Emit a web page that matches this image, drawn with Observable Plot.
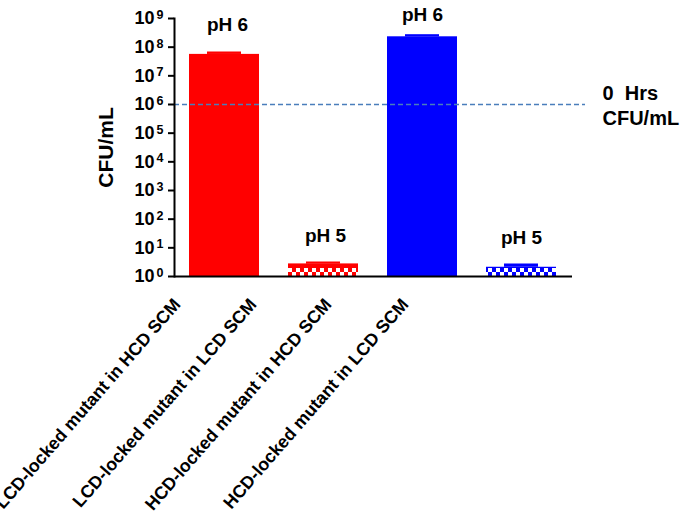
<!DOCTYPE html>
<html>
<head>
<meta charset="utf-8">
<script src="https://cdn.jsdelivr.net/npm/d3@7"></script>
<script src="https://cdn.jsdelivr.net/npm/@observablehq/plot@0.6"></script>
<style>
  body { margin: 0; background: #fff; }
</style>
</head>
<body>
<div id="chart"></div>
<script>
// ---- data ----
const categories = [
  "LCD-locked mutant in HCD SCM",
  "LCD-locked mutant in LCD SCM",
  "HCD-locked mutant in HCD SCM",
  "HCD-locked mutant in LCD SCM"
];
const means = [5.6e7, 2.75, 2.3e8, 2.1];
const errTops = [6.5e7, 3.07, 2.6e8, 2.62];
const phLabels = ["pH 6", "pH 5", "pH 6", "pH 5"];
const baselineValue = [1e6];
const baselineLabel = "0  Hrs\nCFU/mL";
const exponents = [0, 1, 2, 3, 4, 5, 6, 7, 8, 9];
const yLabel = "CFU/mL";

// ---- styles ----
const fills = ["#ff0000", "url(#checkRed)", "#0000ff", "url(#checkBlue)"];
const strokes = ["#ff0000", "#ff0000", "#0000ff", "#0000ff"];
const labelDx = [-43, -66, -90, -112];
const phDx = [3, 2, 0, 0];
const phDy = [-22, -21, -14, -21];

const rows = categories.map((c, i) => ({
  category: c, mean: means[i], err: errTops[i], ph: phLabels[i], fill: fills[i], stroke: strokes[i]
}));

const font = "'Liberation Sans', Arial, sans-serif";

const plot = Plot.plot({
  width: 680,
  height: 516,
  marginLeft: 174,
  marginRight: 108,
  marginTop: 18,
  marginBottom: 240,
  style: { fontFamily: font, color: "black", background: "white", overflow: "visible" },
  x: { type: "band", domain: categories, paddingInner: 0.29, paddingOuter: 0.155, axis: null },
  y: { type: "log", domain: [1, 1e9], axis: null },
  color: { type: "identity" },
  marks: [
    Plot.barY(rows, { x: "category", y1: 1, y2: "mean", fill: "fill" }),
    Plot.barY(rows, { x: "category", y1: "mean", y2: "err", fill: "stroke", insetLeft: 18, insetRight: 18 }),
    Plot.tickY(rows, { x: "category", y: "err", stroke: "stroke", strokeWidth: 2, insetLeft: 18, insetRight: 18 }),
    Plot.ruleY(baselineValue, { stroke: "#4a7ebb", strokeWidth: 1.6, strokeDasharray: "5,3", insetRight: -13 }),
    Plot.text(baselineValue, { y: d => d, text: () => baselineLabel, frameAnchor: "right", dx: 30, textAnchor: "start", fontSize: 20, fontWeight: "bold", lineHeight: 1.25 }),
    ...rows.map((r, i) => Plot.text([r], { x: "category", y: "err", text: "ph", dx: phDx[i], dy: phDy[i], lineAnchor: "bottom", fontSize: 19, fontWeight: "bold" })),
    Plot.axisY({ ticks: exponents.map(e => 10 ** e), tickFormat: () => "10", tickSize: 6, tickPadding: 14, fontSize: 18, fontWeight: "bold", strokeWidth: 2, label: null }),
    Plot.text(exponents, { y: d => 10 ** d, text: d => String(d), frameAnchor: "left", dx: -18, dy: -3.6, textAnchor: "start", fontSize: 12.5, fontWeight: "bold" }),
    Plot.text([yLabel], { frameAnchor: "left", dx: -68, rotate: -90, textAnchor: "middle", text: d => d, fontSize: 21, fontWeight: "bold" }),
    ...categories.map((c, i) => Plot.text([c], { x: d => d, frameAnchor: "bottom", dx: labelDx[i], dy: 28.5, rotate: -49, textAnchor: "end", lineAnchor: "bottom", fontSize: 17.8, fontWeight: "bold" })),
    Plot.ruleY([1], { strokeWidth: 2 }),
    Plot.frame({ anchor: "left", strokeWidth: 2 })
  ]
});

// checkered patterns for the pH 5 bars
const ns = "http://www.w3.org/2000/svg";
const y0 = plot.scale("y").apply(1);
const defs = document.createElementNS(ns, "defs");
[["checkRed", "#ff0000"], ["checkBlue", "#0000ff"]].forEach(([id, col]) => {
  const p = document.createElementNS(ns, "pattern");
  p.setAttribute("id", id);
  p.setAttribute("patternUnits", "userSpaceOnUse");
  p.setAttribute("width", 8);
  p.setAttribute("height", 16);
  p.setAttribute("y", y0 - 16);
  const bg = document.createElementNS(ns, "rect");
  bg.setAttribute("width", 8); bg.setAttribute("height", 16); bg.setAttribute("fill", col);
  p.appendChild(bg);
  [[0, 8], [4, 12]].forEach(([x, y]) => {
    const r = document.createElementNS(ns, "rect");
    r.setAttribute("x", x); r.setAttribute("y", y);
    r.setAttribute("width", 4); r.setAttribute("height", 4);
    r.setAttribute("fill", "#ffffff");
    p.appendChild(r);
  });
  defs.appendChild(p);
});
plot.insertBefore(defs, plot.firstChild);

document.getElementById("chart").appendChild(plot);
</script>
</body>
</html>
